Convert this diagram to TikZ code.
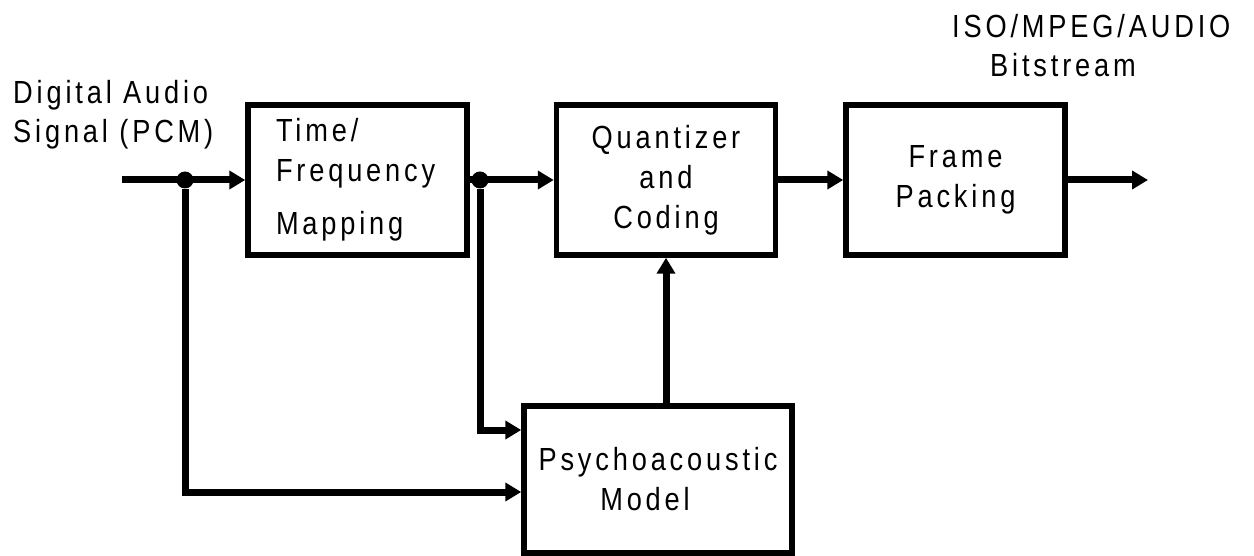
\documentclass[tikz,border=0pt]{standalone}
\usepackage{fontspec}
\setmainfont{Liberation Sans}[FakeStretch=0.85,LetterSpace=12]
\usetikzlibrary{positioning,arrows.meta}

\begin{document}
\begin{tikzpicture}[x=1pt, y=-1pt, node distance=84pt,
  blk/.style={draw, line width=5.5pt, minimum width=219pt, minimum height=150pt, align=center, font=\fontsize{32}{40}\selectfont},
  txt/.style={inner sep=0pt, align=left, font=\fontsize{32}{39}\selectfont},
  sig/.style={line width=7pt, -{Triangle[length=16pt,width=18pt]}},
  jn/.style={circle, fill, inner sep=0pt, minimum size=17pt}]
\useasboundingbox (0,0) rectangle (1254,556);
%
\node[blk, text width=163pt, align=left] (tf) at (357.5,180) {Time/\\Frequency\\[13pt]Mapping};
\node[blk, right=of tf]      (qc) {Quantizer\\and\\Coding};
\node[blk, right=65pt of qc] (fp) {Frame\\Packing};
\node[blk, minimum width=268pt, minimum height=147pt] (pm) at (658,479.5) {Psychoacoustic\\Model\hspace*{26pt}};
%
\node[txt, anchor=north west] (srclbl) at (13,80) {Digital Audio\\Signal (PCM)};
\node[txt, anchor=north west] (snklbl) at (952,14) {ISO/MPEG/AUDIO\\\hspace*{38pt}Bitstream};
%
\coordinate (src) at (122,180);
\coordinate (snk) at (1148,180);
\node[jn] (j1) at (185,180) {};
\node[jn] (j2) at (480,180) {};
%
\path[sig]
	(src) edge (tf)
	(tf)  edge (qc)
	(qc)  edge (fp)
	(fp)  edge (snk)
%
	(pm.north -| qc.south) edge (qc.south)
; %-draw-%
\draw[sig] (j2) |- ([yshift=49.5pt]pm.west);
\draw[sig] (j1) |- ([yshift=-12.5pt]pm.west);
\end{tikzpicture}
\end{document}
